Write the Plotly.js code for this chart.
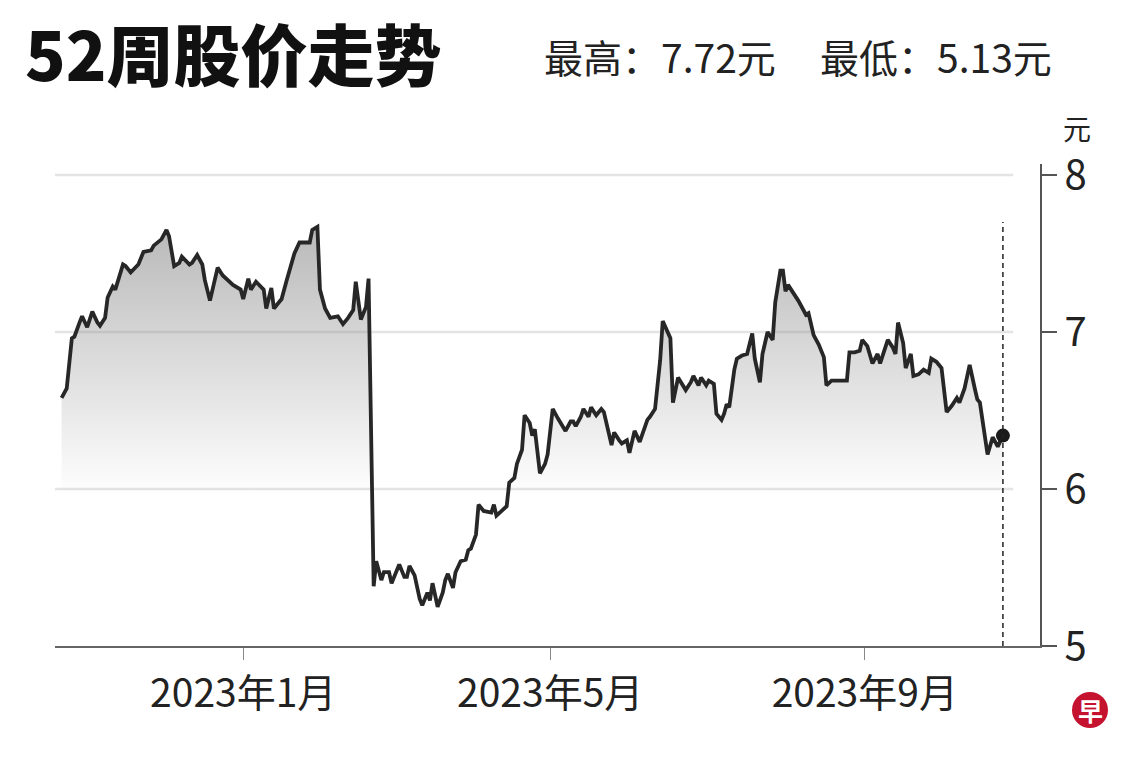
<!DOCTYPE html>
<html>
<head>
<meta charset="utf-8">
<script src="https://cdn.plot.ly/plotly-3.0.1.min.js"></script>
<style>html,body{margin:0;padding:0;background:#fff;}#chart{width:1140px;height:760px;}</style>
</head>
<body>
<div id="chart"></div>
<script>
const FONT = '"Noto Sans CJK SC", "Noto Sans", sans-serif';

const dates = [
'2022-10-22','2022-10-24','2022-10-26','2022-10-27','2022-10-29','2022-10-30','2022-11-01','2022-11-03','2022-11-05','2022-11-06',
'2022-11-08','2022-11-09','2022-11-11','2022-11-12','2022-11-15','2022-11-16','2022-11-18','2022-11-21','2022-11-23','2022-11-26',
'2022-11-27','2022-11-30','2022-12-02','2022-12-03','2022-12-05','2022-12-07','2022-12-08','2022-12-11','2022-12-12','2022-12-14',
'2022-12-16','2022-12-17','2022-12-19','2022-12-22','2022-12-24','2022-12-28','2022-12-31','2023-01-01','2023-01-03','2023-01-04',
'2023-01-06','2023-01-09','2023-01-10','2023-01-12','2023-01-13','2023-01-16','2023-01-18','2023-01-21','2023-01-23','2023-01-27',
'2023-01-28','2023-01-30','2023-01-31','2023-02-02','2023-02-04','2023-02-07','2023-02-09','2023-02-11','2023-02-13','2023-02-14',
'2023-02-16','2023-02-18','2023-02-19','2023-02-21','2023-02-22','2023-02-24','2023-02-25','2023-02-27','2023-02-28','2023-03-03',
'2023-03-05','2023-03-06','2023-03-07','2023-03-09','2023-03-11','2023-03-12','2023-03-14','2023-03-15','2023-03-16','2023-03-18',
'2023-03-20','2023-03-21','2023-03-22','2023-03-24','2023-03-25','2023-03-27','2023-03-29','2023-03-30','2023-03-31','2023-04-02',
'2023-04-03','2023-04-05','2023-04-08','2023-04-09','2023-04-10','2023-04-12','2023-04-14','2023-04-15','2023-04-17','2023-04-18',
'2023-04-20','2023-04-21','2023-04-23','2023-04-24','2023-04-25','2023-04-27','2023-04-29','2023-04-30','2023-05-02','2023-05-04',
'2023-05-07','2023-05-09','2023-05-10','2023-05-11','2023-05-13','2023-05-14','2023-05-16','2023-05-17','2023-05-19','2023-05-21',
'2023-05-22','2023-05-25','2023-05-26','2023-05-28','2023-05-29','2023-05-31','2023-06-01','2023-06-03','2023-06-05','2023-06-08',
'2023-06-09','2023-06-11','2023-06-13','2023-06-14','2023-06-15','2023-06-17','2023-06-18','2023-06-20','2023-06-23','2023-06-25',
'2023-06-26','2023-06-28','2023-06-29','2023-07-01','2023-07-02','2023-07-04','2023-07-05','2023-07-07','2023-07-08','2023-07-09',
'2023-07-10','2023-07-12','2023-07-13','2023-07-15','2023-07-17','2023-07-19','2023-07-20','2023-07-22','2023-07-23','2023-07-25',
'2023-07-27','2023-07-28','2023-07-30','2023-07-31','2023-08-01','2023-08-02','2023-08-06','2023-08-09','2023-08-10','2023-08-12',
'2023-08-14','2023-08-16','2023-08-17','2023-08-19','2023-08-22','2023-08-25','2023-08-26','2023-08-28','2023-08-30','2023-08-31',
'2023-09-02','2023-09-04','2023-09-06','2023-09-07','2023-09-10','2023-09-12','2023-09-13','2023-09-14','2023-09-16','2023-09-17',
'2023-09-19','2023-09-20','2023-09-22','2023-09-24','2023-09-26','2023-09-27','2023-09-29','2023-10-01','2023-10-03','2023-10-05',
'2023-10-07','2023-10-08','2023-10-10','2023-10-12','2023-10-14','2023-10-15','2023-10-16','2023-10-18','2023-10-19','2023-10-21',
'2023-10-23','2023-10-25'
];

const prices = [
6.58,6.64,6.96,6.97,7.06,7.10,7.03,7.13,7.06,7.04,
7.09,7.22,7.29,7.27,7.43,7.42,7.38,7.43,7.51,7.52,
7.55,7.59,7.65,7.61,7.42,7.44,7.48,7.43,7.44,7.49,
7.43,7.33,7.20,7.41,7.36,7.30,7.27,7.21,7.34,7.27,
7.32,7.27,7.15,7.28,7.15,7.21,7.33,7.50,7.57,7.57,
7.65,7.67,7.27,7.15,7.09,7.10,7.05,7.09,7.14,7.32,
7.08,7.16,7.34,5.38,5.54,5.42,5.47,5.47,5.40,5.52,
5.44,5.44,5.51,5.45,5.30,5.26,5.34,5.29,5.40,5.25,
5.34,5.42,5.46,5.37,5.47,5.54,5.55,5.61,5.62,5.71,
5.90,5.86,5.85,5.90,5.83,5.86,5.89,6.04,6.07,6.16,
6.25,6.47,6.42,6.34,6.38,6.10,6.16,6.22,6.51,6.45,
6.37,6.43,6.43,6.40,6.46,6.51,6.46,6.52,6.47,6.51,
6.49,6.28,6.36,6.31,6.29,6.31,6.23,6.37,6.30,6.44,
6.46,6.51,6.82,7.07,7.03,6.96,6.55,6.71,6.63,6.68,
6.72,6.66,6.71,6.66,6.69,6.67,6.48,6.44,6.48,6.54,
6.52,6.76,6.83,6.85,6.86,6.99,6.83,6.68,6.86,7.00,
6.95,7.19,7.39,7.39,7.26,7.30,7.20,7.11,7.12,6.98,
6.92,6.84,6.66,6.69,6.69,6.69,6.87,6.87,6.88,6.95,
6.91,6.80,6.86,6.80,6.95,6.90,6.86,7.06,6.93,6.77,
6.86,6.72,6.73,6.76,6.74,6.83,6.81,6.77,6.49,6.53,
6.58,6.55,6.64,6.79,6.64,6.57,6.55,6.31,6.22,6.33,
6.27,6.34
];

const xTickVals = ['2023-01-01','2023-05-01','2023-09-01'];
const xTickText = ['2023年1月','2023年5月','2023年9月'];
const yTickVals = [5,6,7,8];
const yTickText = ['5','6','7','8'];

const titleText = '52周股价走势';
const highText = '最高：7.72元';
const lowText = '最低：5.13元';
const unitText = '元';
const logoText = '早';

const lastDate = dates[dates.length - 1];
const lastPrice = prices[prices.length - 1];

const traces = [
  {
    type: 'scatter', mode: 'lines', x: dates, y: prices,
    line: {color: '#272727', width: 3.8},
    fill: 'tozeroy',
    fillgradient: {
      type: 'vertical', start: 5.95, stop: 7.7,
      colorscale: [[0, 'rgba(140,140,140,0)'], [1, 'rgba(140,140,140,0.62)']]
    },
    hoverinfo: 'skip', showlegend: false
  },
  {
    type: 'scatter', mode: 'markers', x: [lastDate], y: [lastPrice],
    marker: {color: '#1a1a1a', size: 14},
    hoverinfo: 'skip', showlegend: false
  }
];

const gridShapes = yTickVals.filter(v => v > 5).map(v => ({
  type: 'line', xref: 'x', yref: 'y', x0: '2022-10-19', x1: '2023-10-29', y0: v, y1: v,
  line: {color: '#e4e4e4', width: 2.5}, layer: 'below'
}));

const layout = {
  width: 1140, height: 760,
  paper_bgcolor: '#ffffff', plot_bgcolor: '#ffffff',
  margin: {l: 55, r: 100, t: 164, b: 114},
  font: {family: FONT, color: '#222'},
  title: {
    text: titleText,
    font: {family: FONT, size: 67, weight: 900, color: '#111'},
    xref: 'container', yref: 'container', x: 25 / 1140, xanchor: 'left', y: 1 - 58 / 760, yanchor: 'middle'
  },
  xaxis: {
    type: 'date', range: ['2022-10-19 10:00', '2023-11-08 12:00'],
    tickmode: 'array', tickvals: xTickVals, ticktext: xTickText,
    ticks: 'outside', ticklen: 12, tickcolor: '#888', tickwidth: 1,
    showline: true, linecolor: '#666', linewidth: 2,
    showgrid: false, zeroline: false,
    tickfont: {family: FONT, size: 39, color: '#222'},
    fixedrange: true
  },
  yaxis: {
    side: 'right', range: [5, 8.07],
    tickmode: 'array', tickvals: yTickVals, ticktext: yTickText,
    ticks: 'outside', ticklen: 15, tickcolor: '#555', tickwidth: 1.2,
    showline: true, linecolor: '#555', linewidth: 1.5,
    showgrid: false, zeroline: false,
    tickfont: {family: FONT, size: 40, color: '#222'},
    fixedrange: true
  },
  shapes: gridShapes.concat([
    {
      type: 'line', xref: 'x', yref: 'y', x0: lastDate, x1: lastDate, y0: 5, y1: 7.7,
      line: {color: '#222', width: 1.5, dash: '5px,4px'}
    },
    {
      type: 'circle', xref: 'paper', yref: 'paper', xsizemode: 'pixel', ysizemode: 'pixel',
      xanchor: (1090 - 55) / 985, yanchor: (646 - 710) / 482,
      x0: -18, x1: 18, y0: -18, y1: 18,
      fillcolor: '#c4122f', line: {width: 0}
    }
  ]),
  annotations: [
    {text: highText, xref: 'paper', yref: 'paper', x: (542 - 55) / 985, y: (646 - 56) / 482,
     xanchor: 'left', yanchor: 'middle', showarrow: false, font: {family: FONT, size: 39, color: '#222'}},
    {text: lowText, xref: 'paper', yref: 'paper', x: (818 - 55) / 985, y: (646 - 56) / 482,
     xanchor: 'left', yanchor: 'middle', showarrow: false, font: {family: FONT, size: 39, color: '#222'}},
    {text: unitText, xref: 'paper', yref: 'paper', x: (1077 - 55) / 985, y: (646 - 128) / 482,
     xanchor: 'center', yanchor: 'middle', showarrow: false, font: {family: FONT, size: 28, color: '#222'}},
    {text: logoText, xref: 'paper', yref: 'paper', x: (1090 - 55) / 985, y: (646 - 710) / 482,
     xanchor: 'center', yanchor: 'middle', showarrow: false, font: {family: FONT, size: 25, weight: 'bold', color: '#ffffff'}}
  ]
};

Plotly.newPlot('chart', traces, layout, {displayModeBar: false, staticPlot: true});
</script>
</body>
</html>
